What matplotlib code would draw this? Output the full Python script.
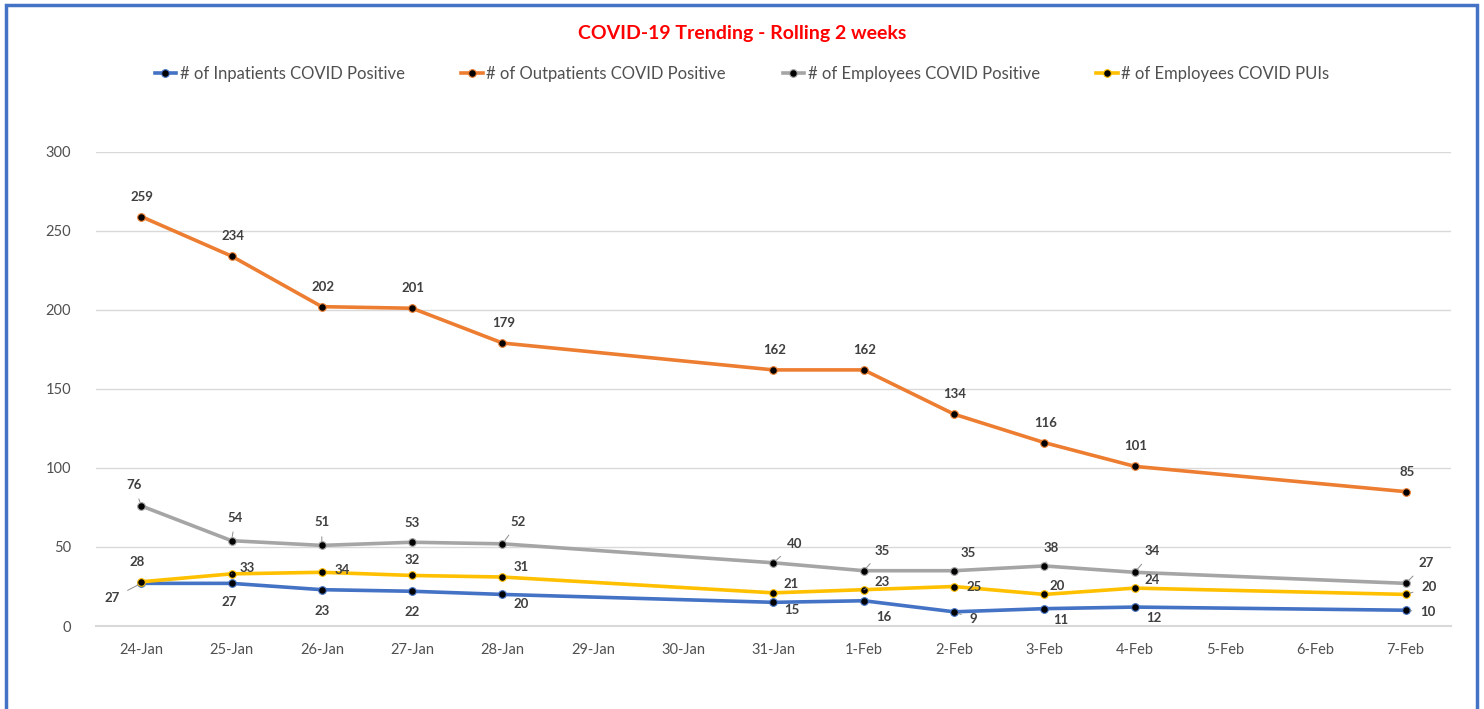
import numpy as np
import matplotlib.pyplot as plt
from matplotlib.patches import Rectangle

plt.rcParams['font.family'] = ['Lato', 'DejaVu Sans']

dates = ['24-Jan', '25-Jan', '26-Jan', '27-Jan', '28-Jan', '29-Jan', '30-Jan',
         '31-Jan', '1-Feb', '2-Feb', '3-Feb', '4-Feb', '5-Feb', '6-Feb', '7-Feb']
N = None
inpatients = [27, 27, 23, 22, 20, N, N, 15, 16, 9, 11, 12, N, N, 10]
outpatients = [259, 234, 202, 201, 179, N, N, 162, 162, 134, 116, 101, N, N, 85]
employees = [76, 54, 51, 53, 52, N, N, 40, 35, 35, 38, 34, N, N, 27]
puis = [28, 33, 34, 32, 31, N, N, 21, 23, 25, 20, 24, N, N, 20]

names = ['# of Inpatients COVID Positive', '# of Outpatients COVID Positive',
         '# of Employees COVID Positive', '# of Employees COVID PUIs']
colors = ['#4472C4', '#ED7D31', '#A5A5A5', '#FFC000']

# label offsets in pixels (dx, dy) for each reported day, plus leader flag
inp_off = [(-29, -15, 1), (-2, -19, 0), (0, -21, 0), (0, -21, 0), (19, -10, 0),
           (18, -8, 0), (20, -16, 0), (19, -7, 1), (16, -11, 0), (19, -11, 0), (22, -2, 1)]
out_off = [(1, 20, 0)] * 11
emp_off = [(-7, 21, 1), (4, 23, 1), (0, 23, 1), (0, 19, 0), (16, 22, 1),
           (21, 19, 1), (18, 20, 1), (14, 18, 0), (7, 18, 1), (18, 21, 1), (20, 20, 1)]
pui_off = [(-4, 20, 0), (16, 6, 1), (20, 2, 0), (0, 15, 0), (19, 10, 0),
           (18, 9, 0), (18, 8, 1), (20, 0, 0), (13, 8, 0), (17, 8, 0), (23, 7, 1)]

fig = plt.figure(figsize=(14.84, 7.09), dpi=100)
ax = fig.add_axes([0.0647, 0.117, 0.913, 0.669])

x_all = np.arange(len(dates))
series = [inpatients, outpatients, employees, puis]
offsets = [inp_off, out_off, emp_off, pui_off]
for vals, name, col, offs in zip(series, names, colors, offsets):
    xs = [i for i, v in zip(x_all, vals) if v is not None]
    ys = [v for v in vals if v is not None]
    ax.plot(xs, ys, color=col, lw=2.6, marker='o', ms=5.5,
            mfc='black', mec=col, mew=0.8, label=name, zorder=3)
    for xi, yi, (dx, dy, lead) in zip(xs, ys, offs):
        ap = dict(arrowstyle='-', color='#8c8c8c', lw=0.7, shrinkA=4, shrinkB=3) if lead else None
        ax.annotate(str(yi), (xi, yi), xytext=(dx, dy), textcoords='offset pixels',
                    ha='center', va='center', fontsize=9.5, fontweight='bold',
                    color='#404040', arrowprops=ap, zorder=4)

ax.set_xlim(-0.5, len(dates) - 0.5)
ax.set_ylim(0, 300)
ax.set_yticks(range(0, 301, 50))
ax.set_xticks(x_all)
ax.set_xticklabels(dates)
ax.grid(axis='y', color='#d9d9d9', lw=1)
ax.set_axisbelow(True)
for s in ['top', 'right', 'left']:
    ax.spines[s].set_visible(False)
ax.spines['bottom'].set_color('#d9d9d9')
ax.spines['bottom'].set_linewidth(1.5)
ax.tick_params(length=0, labelsize=10.5, labelcolor='#505050')
ax.tick_params(axis='x', pad=12)
ax.tick_params(axis='y', pad=18)

fig.text(0.5, 0.953, 'COVID-19 Trending - Rolling 2 weeks', ha='center', va='center',
         color='#ff0000', fontsize=14, fontweight='bold')
fig.legend(loc='center', bbox_to_anchor=(0.500, 0.896), ncol=4, frameon=False,
           fontsize=12, handlelength=1.3, handletextpad=0.2, columnspacing=3.4,
           labelcolor='#505050')

fig.patches.append(Rectangle((0.004, -0.01), 0.991, 1.003, transform=fig.transFigure,
                             fill=False, edgecolor='#4472C4', lw=2.5))

fig.savefig('out.png', dpi=100)
